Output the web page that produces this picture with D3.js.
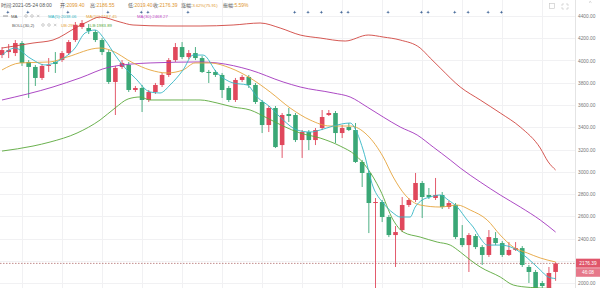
<!DOCTYPE html>
<html><head><meta charset="utf-8">
<script src="https://cdn.jsdelivr.net/npm/d3@7"></script>
<style>html,body{margin:0;padding:0;background:#fff;overflow:hidden}svg{display:block}</style>
</head><body><svg id="c" width="600" height="288"></svg>
<script>
// ---- data (4h candles, last = 2021-05-24 08:00) ----
const open  = [4049,4076,4067,4157,3987,3942,3843,3951,3987,4004,4067,4184,4301,4292,4256,4184,4076,3807,3942,3960,3735,3753,3645,3717,3780,3870,4004,4121,4031,4067,4022,3897,3897,3870,3753,3645,3825,3852,3780,3627,3420,3573,3240,3519,3510,3285,3357,3285,3393,3510,3528,3348,3402,3375,3088,2989,2719,2728,2593,2431,2476,2701,2746,2899,2791,2764,2791,2683,2701,2404,2341,2422,2323,2252,2404,2359,2252,2297,2314,2144,2099,2000,1892,2099.40];
const high  = [4121,4148,4184,4175,4004,3960,3969,4022,4076,4085,4184,4346,4364,4328,4274,4202,4094,3951,4004,3987,3771,3780,3735,3798,3888,4022,4157,4166,4094,4121,4040,3915,3915,3888,3771,3843,3870,3870,3798,3645,3591,3591,3528,3573,3528,3375,3375,3393,3555,3555,3546,3420,3438,3438,3106,3007,2764,2746,2611,2512,2773,2764,2989,2917,2854,2944,2818,2737,2719,2521,2449,2440,2341,2476,2458,2377,2368,2368,2332,2162,2117,2018,2144,2186.55];
const low   = [4022,4022,4040,3951,3663,3771,3825,3897,3888,3987,4049,4166,4283,4238,4166,4049,3789,3510,3924,3717,3717,3537,3627,3699,3762,3852,3987,4013,4013,4004,3888,3798,3852,3663,3627,3627,3807,3753,3609,3348,3357,3213,3124,3447,3267,3124,3195,3240,3375,3501,3258,3303,3366,3079,2863,2449,1850,2548,2413,2144,2458,2683,2728,2584,2755,2746,2665,2665,2395,2323,2099,2305,2162,2234,2341,2234,2243,2288,2144,2000,1757,1937,1847,2019.40];
const close = [4094,4094,4157,3978,3942,3843,3951,3960,3969,4067,4166,4319,4337,4265,4184,4076,3807,3933,3978,3735,3753,3645,3717,3780,3870,4004,4121,4031,4067,4022,3897,3888,3870,3735,3645,3825,3852,3780,3627,3420,3573,3222,3510,3501,3285,3357,3285,3375,3492,3528,3348,3393,3375,3088,2989,2719,2728,2593,2431,2458,2701,2746,2899,2773,2773,2791,2683,2719,2413,2341,2431,2323,2252,2413,2359,2252,2297,2314,2162,2099,1847,1973,2090,2176.39];

// indicator lines, [candle index, value]
const ma5 = [[0,4049],[1.95,4112],[4.2,4022],[6.45,3960],[8.7,4004],[10.95,4112],[12.45,4247],[13.95,4274],[15.45,4184],[16.95,4049],[18.45,3933],[19.95,3843],[22.2,3717],[23.7,3708],[25.2,3780],[27.15,3915],[28.65,4049],[30.15,4049],[32.25,3888],[34.65,3798],[36.75,3780],[38.25,3672],[40.2,3582],[42.15,3465],[44.25,3375],[46.2,3357],[47.7,3375],[49.65,3411],[52.2,3438],[53.25,3348],[54.15,3195],[55.65,2863],[57.15,2719],[58.65,2629],[59.7,2593],[61.2,2593],[61.95,2683],[63,2746],[64.2,2773],[65.7,2791],[66.9,2746],[68.25,2683],[69.75,2566],[70.65,2503],[71.7,2404],[72.75,2341],[74.7,2341],[76.65,2314],[78.75,2225],[80.7,2117],[81.9,2054],[83,2040]];
const ma10 = [[0,3915],[2.7,3978],[7.2,3987],[9.75,4031],[14.7,4112],[16.2,4094],[19.65,3978],[22.2,3915],[24.75,3888],[27.15,3915],[28.95,3978],[31.2,3978],[34.2,3933],[37.2,3843],[40.2,3717],[43.2,3573],[46.2,3465],[49.2,3411],[52.2,3411],[54.75,3330],[57.15,3133],[58.65,2953],[60.45,2791],[62.7,2701],[65.7,2683],[68.25,2701],[70.2,2656],[72.75,2566],[74.7,2431],[76.65,2323],[78.75,2270],[80.7,2225],[83,2189]];
const bollMid = [[0,3645],[7.65,3762],[11.7,3843],[16.2,3942],[22.2,3978],[29.7,3987],[32.25,3978],[37.2,3915],[42.15,3807],[44.7,3762],[49.65,3708],[52.2,3672],[54.75,3582],[57.15,3492],[59.7,3402],[62.25,3330],[64.65,3222],[67.2,3106],[68.7,3034],[71.7,2908],[74.7,2791],[77.7,2683],[80.7,2566],[83,2458]];
const bollUp = [[0,4112],[4.65,4157],[7.65,4184],[11.25,4301],[12.75,4346],[14.7,4391],[17.7,4346],[19.65,4319],[24.75,4310],[29.7,4310],[34.65,4319],[38.7,4337],[41.7,4292],[44.7,4229],[47.7,4202],[51.45,4175],[54.9,4229],[57.15,4211],[59.7,4184],[62.7,4112],[64.2,4022],[65.7,3933],[68.7,3762],[71.7,3645],[74.7,3528],[77.7,3402],[80.7,3213],[81.9,3088],[83,3016]];
const bollLow = [[0,3186],[4.65,3231],[7.2,3267],[11.25,3348],[14.7,3465],[16.95,3573],[18.9,3654],[20.7,3672],[22.2,3645],[27.15,3645],[29.7,3645],[32.25,3618],[34.65,3582],[37.2,3555],[39.75,3483],[42.15,3411],[44.7,3348],[47.7,3303],[50.7,3231],[52.95,3151],[54.75,3034],[56.7,2836],[58.65,2566],[60.15,2458],[62.7,2413],[65.25,2368],[67.2,2341],[68.7,2279],[70.2,2207],[71.7,2144],[74.7,2054],[76.65,1982],[79.2,1960],[83,1950]];

const markerIdx = [1,4,10,16,21,22,28,44,46,48,51,52,58,63,64,68,70,73,75];
const gridLevels = [4400,4200,4000,3800,3600,3400,3200,3000,2800,2600,2400,2200,2000];
const yTickLabels = [4400,4200,4000,3800,3600,3400,3200,3000,2800,2600,2400,2000];
const lastPrice = 2176.39;
const countdown = "46:08";

const header = [
  {x:1,   label:"时间:2021-05-24 08:00", value:"", vs:5},
  {x:60,  label:"开:", value:"2099.40", vs:5},
  {x:90,  label:"高:", value:"2186.55", vs:5},
  {x:128, label:"低:", value:"2019.40", vs:5},
  {x:153, label:"收:", value:"2176.39", vs:5},
  {x:181, label:"涨幅:", value:"3.62%(75.91)", vs:4.2},
  {x:223, label:"振幅:", value:"5.59%", vs:5}
];

// ---- layout ----
const W=600,H=288,plotR=575;
const FONT="'Liberation Sans','Noto Sans CJK SC',Arial,sans-serif";
const UP="#e0485c", DOWN="#3aa776";
const x=d3.scaleLinear().domain([0,83]).range([2,555.6]);
const y=d3.scaleLinear().domain([2000,4400]).range([283,16]);
const svg=d3.select('#c').style('font-family',FONT);

svg.append('defs').append('clipPath').attr('id','plot')
  .append('rect').attr('x',0).attr('y',0).attr('width',plotR).attr('height',H);

// grid
const grid=svg.append('g');
grid.selectAll('line.h').data(gridLevels).join('line')
  .attr('x1',0).attr('x2',plotR).attr('y1',d=>Math.round(y(d))+0.5).attr('y2',d=>Math.round(y(d))+0.5)
  .attr('stroke','#f1f1f3');
grid.selectAll('line.v').data(d3.range(3,84,6)).join('line')
  .attr('x1',d=>Math.round(x(d))+0.5).attr('x2',d=>Math.round(x(d))+0.5).attr('y1',0).attr('y2',H)
  .attr('stroke','#f1f1f3');

// header text
const ht=svg.append('g').attr('font-size',5);
header.forEach(h=>{
  const t=ht.append('text').attr('x',h.x).attr('y',6.5).attr('fill','#555');
  t.append('tspan').text(h.label);
  if(h.value) t.append('tspan').attr('fill','#e0962f').attr('font-size',h.vs).text(h.value);
});

// legend rows
const lg=svg.append('g').attr('font-size',4.3);
lg.append('line').attr('x1',3).attr('x2',8).attr('y1',16).attr('y2',16).attr('stroke','#777').attr('stroke-width',0.8);
lg.append('text').attr('x',11).attr('y',17.6).attr('fill','#555').text('MA');
function icons(x0,yc){
  lg.append('circle').attr('cx',x0).attr('cy',yc).attr('r',1.3).attr('fill','none').attr('stroke','#aaa').attr('stroke-width',0.6);
  lg.append('circle').attr('cx',x0+6).attr('cy',yc).attr('r',1.3).attr('fill','none').attr('stroke','#aaa').attr('stroke-width',0.6);
  lg.append('path').attr('d',`M${x0+11},${yc-1.2}l2.4,2.4M${x0+13.4},${yc-1.2}l-2.4,2.4`).attr('stroke','#aaa').attr('stroke-width',0.6);
}
icons(26,16);
lg.append('text').attr('x',48).attr('y',17.6).attr('fill','#33b6c4').text('MA(5):2038.06');
lg.append('text').attr('x',86).attr('y',17.6).attr('fill','#e5a43c').text('MA(10):2187.45');
lg.append('text').attr('x',137).attr('y',17.6).attr('fill','#c048c4').text('MA(30):2468.27');
lg.append('text').attr('x',12).attr('y',26.6).attr('fill','#555').text('BOLL(30,2)');
icons(43,25);
lg.append('text').attr('x',61).attr('y',26.6).attr('fill','#e5a43c').text('UB:2952.87');
lg.append('text').attr('x',90).attr('y',26.6).attr('fill','#58a83b').text('LB:1983.89');

// plot group
const plot=svg.append('g').attr('clip-path','url(#plot)');

// price line
plot.append('line').attr('x1',0).attr('x2',plotR).attr('y1',y(lastPrice)).attr('y2',y(lastPrice))
  .attr('stroke','#a85a5a').attr('stroke-width',0.7).attr('stroke-dasharray','1.5,1.5');

// candles
const idx=d3.range(open.length);
const bw=4.6;
const cg=plot.append('g');
cg.selectAll('line').data(idx).join('line')
  .attr('x1',i=>x(i)).attr('x2',i=>x(i))
  .attr('y1',i=>y(high[i])).attr('y2',i=>y(low[i]))
  .attr('stroke',i=>close[i]>=open[i]?UP:DOWN).attr('stroke-width',0.9);
cg.selectAll('rect').data(idx).join('rect')
  .attr('x',i=>x(i)-bw/2).attr('width',bw)
  .attr('y',i=>y(Math.max(open[i],close[i])))
  .attr('height',i=>Math.max(0.9,Math.abs(y(open[i])-y(close[i]))))
  .attr('fill',i=>close[i]>=open[i]?UP:DOWN);

// indicator lines
const line=d3.line().x(d=>x(d[0])).y(d=>y(d[1])).curve(d3.curveMonotoneX);
[[bollUp,'#d0453f'],[bollMid,'#a336bd'],[bollLow,'#5aa83b'],[ma10,'#e5a43c'],[ma5,'#33b6c4']].forEach(([d,c])=>{
  plot.append('path').datum(d).attr('d',line).attr('fill','none').attr('stroke',c).attr('stroke-width',0.9);
});

// markers
const star='M0,-1.8L0.45,-0.45L1.8,0L0.45,0.45L0,1.8L-0.45,0.45L-1.8,0L-0.45,-0.45Z';
svg.append('g').selectAll('path').data(markerIdx).join('path')
  .attr('d',star).attr('transform',i=>`translate(${x(i)-0.8},12.3)`).attr('fill','#3f6496');

// top-right icons
svg.append('rect').attr('x',549.5).attr('y',3.5).attr('width',5).attr('height',5).attr('fill','none').attr('stroke','#c4c4c4').attr('stroke-width',0.6);
svg.append('path').attr('d','M562,4h2M562,4v2M568,4h-2M568,4v2M562,9h2M562,9v-2M568,9h-2M568,9v-2').attr('stroke','#c4c4c4').attr('stroke-width',0.6).attr('fill','none');
svg.append('path').attr('d','M589,2.5l1.2,-1l1.2,1').attr('stroke','#999').attr('stroke-width',0.5).attr('fill','none');

// y axis
svg.append('line').attr('x1',plotR+0.5).attr('x2',plotR+0.5).attr('y1',0).attr('y2',H).attr('stroke','#e4e4e4');
const ax=svg.append('g').attr('transform',`translate(${plotR},0)`)
  .call(d3.axisRight(y).tickValues(yTickLabels).tickFormat(d=>d.toFixed(2)).tickSize(0).tickPadding(3));
ax.select('.domain').remove();
ax.selectAll('text').attr('fill','#777').attr('font-size',4.8).attr('font-family',FONT);

// price tags
const py=y(lastPrice);
svg.append('rect').attr('x',576).attr('y',py-4.7).attr('width',24).attr('height',9).attr('fill','#e0566b');
svg.append('text').attr('x',588).attr('y',py+1.7).attr('text-anchor','middle').attr('font-size',4.8).attr('fill','#fff').text(lastPrice.toFixed(2));
svg.append('rect').attr('x',576).attr('y',py+4.8).attr('width',24).attr('height',8.6).attr('fill','#e6788a');
svg.append('text').attr('x',588).attr('y',py+10.9).attr('text-anchor','middle').attr('font-size',4.8).attr('fill','#fff').text(countdown);
</script></body></html>
